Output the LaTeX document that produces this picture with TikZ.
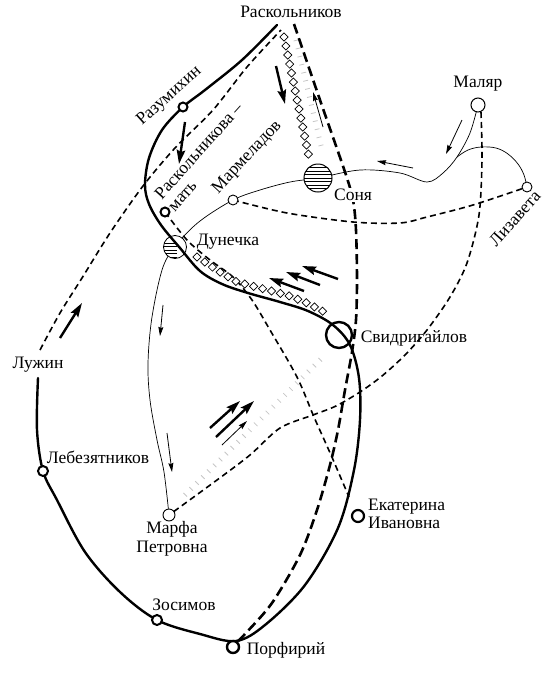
\documentclass[tikz,border=0pt]{standalone}
\usepackage{fontspec}
\setmainfont{Liberation Serif}
\usetikzlibrary{arrows.meta,decorations.markings,shapes.geometric}
\begin{document}
\begin{tikzpicture}[x=1pt,y=-1pt,
  lbl/.style={font=\fontsize{17.5}{18.5}\selectfont, inner sep=1pt},
  thickline/.style={line width=2.4pt, line cap=round, line join=round},
  thindash/.style={line width=1.6pt, dash pattern=on 6pt off 4pt},
  bigdash/.style={line width=2.6pt, dash pattern=on 10pt off 5pt},
  thinline/.style={line width=0.7pt},
  bigarrow/.style={line width=2.4pt, -{Stealth[length=14pt,width=8.5pt,inset=2pt]}},
  smallarrow/.style={line width=0.8pt, -{Stealth[length=9pt,width=5pt,inset=1pt]}},
  tickline/.style={draw=gray!45, line width=5pt, dash pattern=on 0.8pt off 7.5pt},
  dia/.style={diamond, draw, line width=0.7pt, fill=white, minimum width=8.5pt, minimum height=8.5pt, inner sep=0pt},
  dchain/.style={postaction={decorate}, decoration={markings, mark=between positions 0 and 1 step 9.2pt with {\node[dia]{};}}},
  pt/.style={circle, draw, fill=white, inner sep=0pt, line width=2pt, minimum size=9pt},
  thinpt/.style={circle, draw, fill=white, inner sep=0pt, line width=0.9pt, minimum size=10pt},
]
\useasboundingbox (0,0) rectangle (555,673);
% positions
\coordinate (cRazum) at (183,107);
\coordinate (cMother) at (165,212);
\coordinate (cMarm) at (233,200);
\coordinate (cSonya) at (318,178);
\coordinate (cDun) at (175,247);
\coordinate (cSvid) at (339,335);
\coordinate (cMalyar) at (478,105);
\coordinate (cLiza) at (527,187);
\coordinate (cLebez) at (43,471);
\coordinate (cMarfa) at (169,515);
\coordinate (cEkat) at (358,516);
\coordinate (cZosim) at (157,620);
\coordinate (cPorf) at (233,647);
\coordinate (cLuzhin) at (38,365);

% gray hatch ticks
\draw[tickline] (296,40) -- (322,150);
\draw[tickline] (185,495) -- (324,356);

% thin lines
\draw[thinline] plot[smooth, tension=0.55] coordinates {(cMarfa) (164,472) (157,440) (150,400) (148,363) (152,317) (163,267) (178,243) (200,221) (cMarm) (260,190) (290,182) (cSonya) (360,170) (400,173) (427,182) (443,173) (457,157) (470,133) (cMalyar)};
\draw[thinline] plot[smooth, tension=0.6] coordinates {(457,157) (468,150) (481,147) (496,148) (508,154) (518,164) (524,175) (cLiza)};

% dashed lines
\draw[thindash] plot[smooth, tension=0.5] coordinates {(40,350) (60,313) (82,278) (110,233) (143,186) (175,148) (213,110) (247,67) (281,30)};
\draw[thindash] plot[smooth, tension=0.5] coordinates {(cMother) (187,240) (210,260) (233,277) (252,300) (270,330) (297,377) (314,417) (331,455) (349,497)};
\draw[thindash] plot[smooth, tension=0.5] coordinates {(cMarm) (287,213) (353,222) (400,223) (427,217) (473,205) (cLiza)};
\draw[thindash] plot[smooth, tension=0.5] coordinates {(481,112) (482,160) (479,215) (467,263) (450,297) (427,330) (405,355) (382,376) (360,392) (336,406) (313,415) (280,428) (250,455) (217,480) (cMarfa)};
\draw[bigdash] plot[smooth, tension=0.5] coordinates {(294,24) (320,100) (345,172) (353,200) (356,230) (357,280) (356,320) (352,352) (345,390) (338,430) (330,465) (317,510) (300,555) (272,603) (245,634) (237,642)};

% Sonya
\fill[white] (cSonya) circle (14);
\begin{scope}
\clip (cSonya) circle (14);
\foreach \yy in {-10.5,-7,-3.5,0,3.5,7,10.5}
  \draw[line width=0.9pt] (300,178+\yy) -- (336,178+\yy);
\end{scope}
\node[circle, draw, line width=1pt, minimum size=28pt, inner sep=0pt] (sonya) at (cSonya) {};

% Dunechka
\fill[white] (cDun) circle (11.5);
\begin{scope}
\clip (cDun) circle (11.5);
\foreach \yy in {-4,-0.5,3,6.5,10}
  \draw[line width=0.7pt] (160,247+\yy) -- (177,247+\yy);
\end{scope}
\node[circle, draw, line width=0.8pt, minimum size=23pt, inner sep=0pt] (dun) at (cDun) {};

% main thick line
\draw[thickline] plot[smooth, tension=0.55] coordinates {(277,25) (242,60) (205,90) (cRazum) (162,130) (149,158) (145,185) (149,204) (161,225) (180,248) (200,271) (222,284) (248,293) (280,302) (308,311) (333,325) (350,345) (359,378) (360,420) (354,470) (338,528) (305,585) (265,625) (236,641) (200,634) (cZosim) (120,592) (85,552) (57,500) (cLebez) (37,430) (38,378)};

% diamond chains
\path[dchain] (284,37) -- (309,157);
\path[dchain] (197,257) -- (220,272) -- (237,282) -- (260,288) -- (287,295) -- (307,303) -- (326,313);

% node circles
\node[circle, draw, line width=2.4pt, minimum size=26pt, inner sep=0pt] (svid) at (cSvid) {};
\node[pt] (razum) at (cRazum) {};
\node[pt] (mother) at (cMother) {};
\node[thinpt] (marm) at (cMarm) {};
\node[thinpt, minimum size=14pt, line width=1pt] (malyar) at (cMalyar) {};
\node[thinpt] (liza) at (cLiza) {};
\node[pt, minimum size=10pt] (lebez) at (cLebez) {};
\node[thinpt, minimum size=12pt] (marfa) at (cMarfa) {};
\node[pt, minimum size=12pt, line width=2.2pt] (ekat) at (cEkat) {};
\node[pt, minimum size=10pt] (zosim) at (cZosim) {};
\node[pt, minimum size=12pt, line width=2.4pt] (porf) at (cPorf) {};

% arrows
\draw[bigarrow] (276,66) -- (285,104);
\draw[bigarrow] (185,122) -- (179,164);
\draw[smallarrow] (323,127) -- (313,92);
\draw[smallarrow] (462,120) -- (446,154);
\draw[smallarrow] (413,168) -- (377,161);
\draw[bigarrow] (338,279) -- (302,266);
\draw[bigarrow] (320,285) -- (286,272);
\draw[bigarrow] (304,291) -- (269,278);
\draw[bigarrow] (60,338) -- (82,303);
\draw[smallarrow] (163,305) -- (160,336);
\draw[smallarrow] (167,433) -- (172,472);
\draw[bigarrow] (210,428) -- (240,401);
\draw[bigarrow] (216,437) -- (254,401);
\draw[smallarrow] (222,445) -- (247,421);

% labels
\node[lbl] (lRask) at (291,12) {Раскольников};
\node[lbl, rotate=42, anchor=base] (lRazum) at (172,99) {Разумихин};
\node[lbl, rotate=48, anchor=base west] (lMother1) at (161,201) {Раскольникова –};
\node[lbl, rotate=48, anchor=base west] (lMother2) at (174,213) {мать};
\node[lbl, rotate=47, anchor=base] (lMarm) at (250,160) {Мармеладов};
\node[lbl, rotate=48, anchor=base] (lLiza) at (519,222) {Лизавета};
\node[lbl, fill=white] (lSonya) at (353,195) {Соня};
\node[lbl] (lDun) at (228,242) {Дунечка};
\node[lbl] (lSvid) at (414,338) {Свидригайлов};
\node[lbl] (lMalyar) at (478,84) {Маляр};
\node[lbl] (lLuzhin) at (cLuzhin) {Лужин};
\node[lbl] (lLebez) at (98,457) {Лебезятников};
\node[lbl, align=center] (lMarfa) at (172,539) {Марфа\\Петровна};
\node[lbl, align=left, anchor=west] (lEkat) at (367,514) {Екатерина\\Ивановна};
\node[lbl] (lZosim) at (184,605) {Зосимов};
\node[lbl] (lPorf) at (286,650) {Порфирий};
\end{tikzpicture}
\end{document}
